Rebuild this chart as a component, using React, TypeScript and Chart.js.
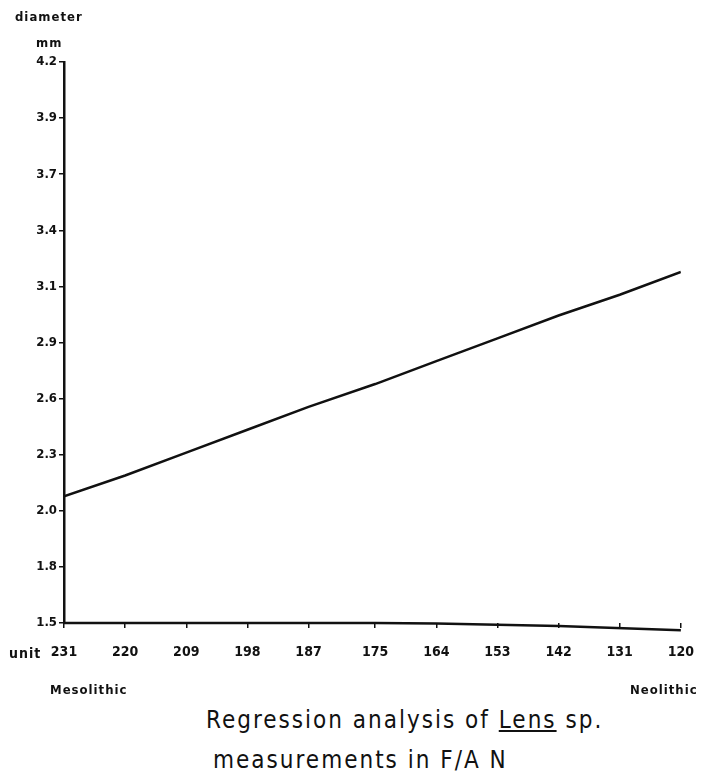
import React, { useEffect, useRef } from 'react';
import { Chart, registerables } from 'chart.js';

Chart.register(...registerables);

// ---- data ----
const xTickValues = [231, 220, 209, 198, 187, 175, 164, 153, 142, 131, 120];
const xTickLabels = ['231', '220', '209', '198', '187', '175', '164', '153', '142', '131', '120'];
const yTickLabels = ['1.5', '1.8', '2.0', '2.3', '2.6', '2.9', '3.1', '3.4', '3.7', '3.9', '4.2'];
const yMin = 1.5;
const yMax = 4.2;

const regressionUnits = [231, 220, 209, 198, 187, 175, 164, 153, 142, 131, 120];
const regressionDiameter = [2.11, 2.21, 2.32, 2.43, 2.54, 2.65, 2.76, 2.87, 2.98, 3.08, 3.19];

const baselineUnits = [231, 175, 164, 142, 120];
const baselineDiameter = [1.5, 1.5, 1.497, 1.485, 1.465];

const FONT = '"DejaVu Sans Condensed", "DejaVu Sans", sans-serif';
const INK = '#111';

export default function App() {
  const ref = useRef<HTMLCanvasElement | null>(null);

  useEffect(() => {
    if (!ref.current) return;
    const chart = new Chart(ref.current, {
      type: 'line',
      data: {
        datasets: [
          {
            label: 'regression',
            data: regressionUnits.map((u, i) => ({ x: u, y: regressionDiameter[i] })),
            borderColor: INK,
            borderWidth: 2.5,
            pointRadius: 0,
            tension: 0,
          },
          {
            label: 'baseline',
            data: baselineUnits.map((u, i) => ({ x: u, y: baselineDiameter[i] })),
            borderColor: INK,
            borderWidth: 2.5,
            pointRadius: 0,
            tension: 0,
            clip: false as any,
          },
        ],
      },
      options: {
        animation: false,
        responsive: false,
        layout: { padding: { left: 0, right: 27, top: 62, bottom: 27 } },
        plugins: { legend: { display: false }, tooltip: { enabled: false }, title: { display: false } },
        scales: {
          x: {
            type: 'linear',
            min: 120,
            max: 231,
            reverse: true,
            afterBuildTicks: (axis: any) => {
              axis.ticks = xTickValues.map((v) => ({ value: v }));
            },
            afterFit: (axis: any) => {
              axis.height = 50;
            },
            ticks: {
              autoSkip: false,
              maxRotation: 0,
              padding: 16,
              color: INK,
              font: { family: FONT, size: 14, weight: 'bold' },
              callback: (_v: any, i: number) => xTickLabels[i],
            },
            grid: { display: true, drawOnChartArea: false, drawTicks: true, tickLength: 5, color: INK, lineWidth: 1.5 },
            border: { display: false },
          },
          y: {
            type: 'linear',
            min: yMin,
            max: yMax,
            afterBuildTicks: (axis: any) => {
              const n = yTickLabels.length - 1;
              axis.ticks = yTickLabels.map((_, i) => ({ value: yMin + (i * (yMax - yMin)) / n }));
            },
            afterFit: (axis: any) => {
              axis.width = 64;
            },
            ticks: {
              autoSkip: false,
              padding: 2,
              color: INK,
              font: { family: FONT, size: 13, weight: 'bold' },
              callback: (_v: any, i: number) => yTickLabels[i],
            },
            grid: { display: true, drawOnChartArea: false, drawTicks: true, tickLength: 5, color: INK, lineWidth: 1.5 },
            border: { display: true, color: INK, width: 2.5 },
          },
        },
      },
    });
    return () => chart.destroy();
  }, []);

  const small: React.CSSProperties = {
    position: 'absolute',
    fontFamily: FONT,
    fontSize: 13,
    fontWeight: 'bold',
    color: INK,
    lineHeight: '14px',
    letterSpacing: 1,
    whiteSpace: 'nowrap',
  };
  const big: React.CSSProperties = {
    position: 'absolute',
    fontFamily: FONT,
    fontSize: 24,
    color: INK,
    letterSpacing: 2,
    lineHeight: '28px',
    whiteSpace: 'nowrap',
  };

  return (
    <div style={{ position: 'absolute', left: 0, top: 0, width: 710, height: 778, overflow: 'hidden', background: '#fff' }}>
      <canvas ref={ref} width={710} height={700} style={{ position: 'absolute', left: 0, top: 0 }} />
      <div style={{ ...small, left: 15, top: 10 }}>diameter</div>
      <div style={{ ...small, left: 36, top: 36 }}>mm</div>
      <div style={{ ...small, left: 9, top: 646, fontSize: 14 }}>unit</div>
      <div style={{ ...small, left: 50, top: 683 }}>Mesolithic</div>
      <div style={{ ...small, left: 630, top: 683 }}>Neolithic</div>
      <div style={{ ...big, left: 206, top: 706 }}>
        Regression analysis of <span style={{ textDecoration: 'underline' }}>Lens</span> sp.
      </div>
      <div style={{ ...big, left: 213, top: 746 }}>measurements in F/A N</div>
    </div>
  );
}
